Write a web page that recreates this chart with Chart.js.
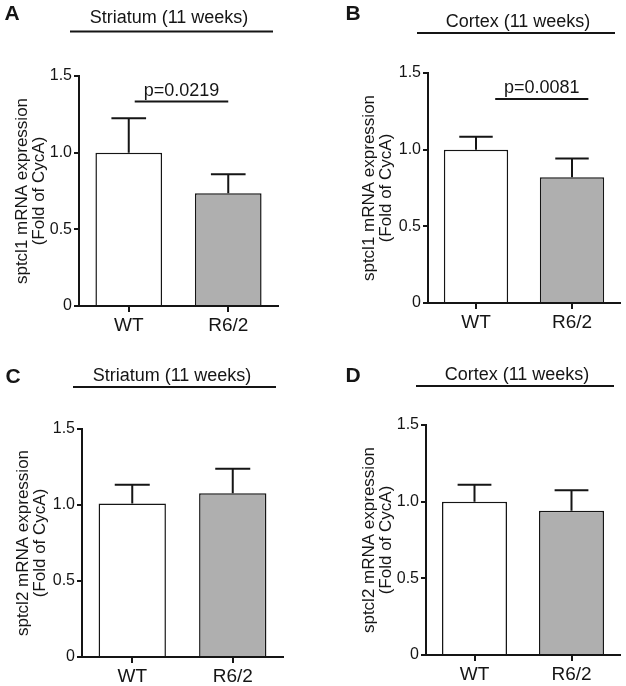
<!DOCTYPE html>
<html><head><meta charset="utf-8">
<script src="https://cdn.jsdelivr.net/npm/chart.js@4.4.0/dist/chart.umd.min.js"></script>
<style>
html,body{margin:0;padding:0;background:#fff;}
#wrap{position:relative;width:626px;height:686px;overflow:hidden;}
.panel{position:absolute;width:313px;height:343px;}
canvas{display:block;}
</style></head><body>
<div id="wrap">
<div class="panel" style="left:0;top:0"><canvas id="c0" width="313" height="343"></canvas></div>
<div class="panel" style="left:313px;top:0"><canvas id="c1" width="313" height="343"></canvas></div>
<div class="panel" style="left:0;top:343px"><canvas id="c2" width="313" height="343"></canvas></div>
<div class="panel" style="left:313px;top:343px"><canvas id="c3" width="313" height="343"></canvas></div>
</div>
<script>
// ---- data ----
const categories = ['WT', 'R6/2'];
const yTickLabels = ['0', '0.5', '1.0', '1.5'];
const panelLetters = ['A', 'B', 'C', 'D'];
const panelTitles = ['Striatum (11 weeks)', 'Cortex (11 weeks)', 'Striatum (11 weeks)', 'Cortex (11 weeks)'];
const yTitleSptcl1 = ['sptcl1 mRNA expression', '(Fold of CycA)'];
const yTitleSptcl2 = ['sptcl2 mRNA expression', '(Fold of CycA)'];
const meanA = [1.00, 0.735];
const semA  = [0.224, 0.124];
const meanB = [1.00, 0.82];
const semB  = [0.084, 0.123];
const meanC = [1.01, 1.078];
const semC  = [0.124, 0.161];
const meanD = [1.00, 0.94];
const semD  = [0.11, 0.135];
const pTexts = ['p=0.0219', 'p=0.0081', null, null];
const pLevels = [1.333, 1.33, null, null];
const pSpans = [[0.06, 1.0], [0.2, 1.17], null, null];

const means = [meanA, meanB, meanC, meanD];
const sems = [semA, semB, semC, semD];
const yTitles = [yTitleSptcl1, yTitleSptcl1, yTitleSptcl2, yTitleSptcl2];

// ---- layout / style ----
const FONT = "'Liberation Sans', Arial, Helvetica, sans-serif";
const INK = '#151515';
const BAR_FILLS = ['#ffffff', '#afafaf'];
const W = 313, H = 343;
const layout = [
  {left: 79,  top: 76, bottom: 306, right: 278, titlePad: 14, titleX: 169, titleY: 18, lineX: [70, 273],  lineY: 31.5, letterX: 12, letterY: 14},
  {left: 115, top: 73, bottom: 303, right: 307, titlePad: 48, titleX: 205, titleY: 22, lineX: [104, 302], lineY: 33,   letterX: 40, letterY: 14},
  {left: 82,  top: 86, bottom: 314, right: 283, titlePad: 15, titleX: 172, titleY: 33, lineX: [73, 276],  lineY: 44,   letterX: 13, letterY: 34},
  {left: 113, top: 82, bottom: 312, right: 307, titlePad: 48, titleX: 204, titleY: 32, lineX: [103, 301], lineY: 43,   letterX: 40, letterY: 33}
];

const errorBarPlugin = {
  id: 'errorBars',
  afterDatasetsDraw(chart) {
    const ctx = chart.ctx;
    const y = chart.scales.y;
    chart.data.datasets.forEach((ds, di) => {
      const meta = chart.getDatasetMeta(di);
      meta.data.forEach((bar, i) => {
        const m = ds.data[i], e = ds.errors[i];
        const yTop = y.getPixelForValue(m + e);
        const yMean = y.getPixelForValue(m);
        const half = bar.width * 0.26;
        ctx.save();
        ctx.strokeStyle = INK;
        ctx.lineWidth = 2;
        ctx.beginPath();
        ctx.moveTo(bar.x, yMean);
        ctx.lineTo(bar.x, yTop);
        ctx.moveTo(bar.x - half, yTop);
        ctx.lineTo(bar.x + half, yTop);
        ctx.stroke();
        ctx.restore();
      });
    });
  }
};

const decorPlugin = {
  id: 'decor',
  afterDraw(chart, args, opts) {
    const ctx = chart.ctx;
    const L = opts.L, k = opts.k;
    ctx.save();
    ctx.fillStyle = INK;
    ctx.strokeStyle = INK;
    // panel letter
    ctx.font = "bold 21px " + FONT;
    ctx.textAlign = 'center';
    ctx.textBaseline = 'middle';
    ctx.fillText(panelLetters[k], L.letterX, L.letterY);
    // panel title + underline
    ctx.font = "18px " + FONT;
    ctx.fillText(panelTitles[k], L.titleX, L.titleY);
    ctx.lineWidth = 2;
    ctx.beginPath();
    ctx.moveTo(L.lineX[0], L.lineY);
    ctx.lineTo(L.lineX[1], L.lineY);
    ctx.stroke();
    // significance annotation
    if (pTexts[k]) {
      const xs = chart.scales.x, ys = chart.scales.y;
      const x0 = xs.getPixelForValue(0), x1 = xs.getPixelForValue(1);
      const step = x1 - x0;
      const a = x0 + pSpans[k][0] * step, b = x0 + pSpans[k][1] * step;
      const py = ys.getPixelForValue(pLevels[k]);
      ctx.beginPath();
      ctx.moveTo(a, py);
      ctx.lineTo(b, py);
      ctx.stroke();
      ctx.font = "18px " + FONT;
      ctx.textBaseline = 'alphabetic';
      ctx.fillText(pTexts[k], (a + b) / 2, py - 6);
    }
    ctx.restore();
  }
};

function makeChart(k) {
  const L = layout[k];
  const ctx = document.getElementById('c' + k).getContext('2d');
  return new Chart(ctx, {
    type: 'bar',
    data: {
      labels: categories,
      datasets: [{
        data: means[k],
        errors: sems[k],
        backgroundColor: BAR_FILLS,
        borderColor: INK,
        borderWidth: 1.5,
        barPercentage: 0.67,
        categoryPercentage: 1
      }]
    },
    options: {
      responsive: false,
      animation: false,
      devicePixelRatio: 1,
      layout: {padding: {left: 0, top: L.top, right: W - L.right, bottom: 0}},
      plugins: {
        legend: {display: false},
        tooltip: {enabled: false},
        decor: {L: L, k: k}
      },
      scales: {
        x: {
          offset: true,
          grid: {display: true, drawOnChartArea: false, offset: false, tickLength: 6, color: INK, lineWidth: 2},
          border: {display: true, color: INK, width: 2},
          ticks: {color: INK, font: {family: FONT, size: 19}, padding: 2},
          afterFit: (s) => { s.height = H - L.bottom; }
        },
        y: {
          min: 0, max: 1.5,
          ticks: {stepSize: 0.5, color: INK, font: {family: FONT, size: 16}, padding: 2,
                  callback: (v, i) => yTickLabels[i]},
          grid: {display: true, drawOnChartArea: false, tickLength: 5, color: INK, lineWidth: 2},
          border: {display: true, color: INK, width: 2},
          title: {display: true, text: yTitles[k], color: INK,
                  font: {family: FONT, size: 17, lineHeight: '17px'},
                  padding: {top: L.titlePad, bottom: 0}},
          afterFit: (s) => { s.width = L.left; }
        }
      }
    },
    plugins: [errorBarPlugin, decorPlugin]
  });
}
for (let k = 0; k < 4; k++) makeChart(k);
</script>
</body></html>
